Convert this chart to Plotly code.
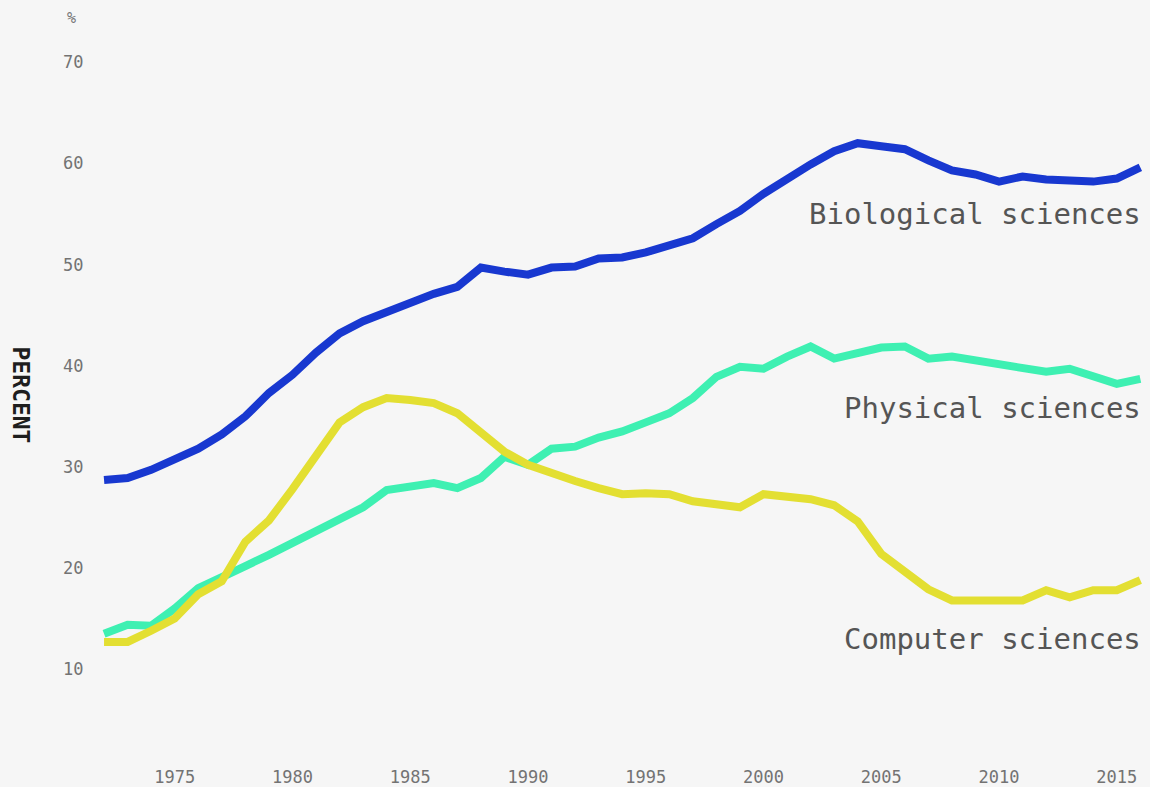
import plotly.graph_objects as go

years = list(range(1972, 2017))

biological = [28.7, 28.9, 29.7, 30.7, 31.8, 33.2, 35.0, 37.3, 39.1, 41.3,
              43.2, 44.4, 45.3, 46.3, 47.1, 47.8, 49.7, 49.3, 49.0, 49.7,
              49.8, 50.6, 50.7, 51.2, 51.8, 52.6, 54.0, 55.3, 57.0, 58.5,
              59.9, 61.2, 62.0, 61.7, 61.4, 60.3, 59.3, 58.9, 58.2, 58.7,
              58.4, 58.3, 58.2, 58.5, 59.6]

physical = [13.5, 14.4, 14.3, 16.0, 18.0, 19.2, 20.2, 21.3, 22.5, 23.7,
            24.8, 26.0, 27.7, 28.1, 28.4, 27.9, 28.9, 31.0, 30.2, 31.8,
            32.0, 32.9, 33.5, 34.4, 35.3, 36.8, 38.9, 39.9, 39.7, 40.9,
            41.9, 40.7, 41.3, 41.8, 41.9, 40.7, 40.9, 40.5, 40.1, 39.8,
            39.4, 39.7, 38.9, 38.2, 38.7]

computer = [12.7, 12.7, 13.8, 15.0, 17.4, 18.7, 22.6, 24.7, 27.8, 31.2,
            34.4, 35.9, 36.8, 36.6, 36.3, 35.3, 33.5, 31.5, 30.2, 29.3,
            28.6, 27.9, 27.3, 27.4, 27.3, 26.6, 26.3, 26.0, 27.3, 27.0,
            26.8, 26.2, 24.6, 21.4, 19.7, 17.9, 16.8, 16.8, 16.8, 16.8,
            17.8, 17.1, 17.8, 17.8, 18.8]

series_names = ["Biological sciences", "Physical sciences", "Computer sciences"]
series_colors = ["#1838d0", "#3ef0b2", "#e3df32"]

x_ticks = [1975, 1980, 1985, 1990, 1995, 2000, 2005, 2010, 2015]
y_ticks = [10, 20, 30, 40, 50, 60, 70]

mono = "DejaVu Sans Mono"
bg = "#f6f6f6"

fig = go.Figure()
for name, vals, col in zip(series_names, [biological, physical, computer], series_colors):
    fig.add_trace(go.Scatter(
        x=years, y=vals, mode="lines", name=name,
        line=dict(color=col, width=8, shape="linear"),
        hoverinfo="x+y+name",
    ))

# series labels
label_pos = {"Biological sciences": 55.0, "Physical sciences": 35.8, "Computer sciences": 13.0}
annotations = []
for name in series_names:
    annotations.append(dict(
        x=2016.1, y=label_pos[name], xref="x", yref="y",
        text=name, showarrow=False, xanchor="right", yanchor="middle",
        font=dict(family=mono, size=29, color="#555555"),
    ))

annotations.append(dict(
    x=0.0101, y=1.034, xref="paper", yref="paper", text="%",
    showarrow=False, xanchor="center", yanchor="middle",
    font=dict(family=mono, size=15, color="#777777"),
))
annotations.append(dict(
    x=-0.0358, y=0.4936, xref="paper", yref="paper", text="<b>PERCENT</b>",
    showarrow=False, xanchor="center", yanchor="middle", textangle=90,
    font=dict(family=mono, size=23, color="#1e1e1e"),
))

fig.update_layout(
    width=1150, height=787, autosize=False,
    paper_bgcolor=bg, plot_bgcolor=bg,
    margin=dict(l=60, r=0, t=42, b=44),
    showlegend=False,
    annotations=annotations,
    xaxis=dict(
        range=[1970.13, 2016.41], tickmode="array", tickvals=x_ticks,
        ticktext=[str(v) for v in x_ticks],
        showgrid=False, zeroline=False, showline=False,
        ticks="outside", ticklen=22, tickcolor="rgba(0,0,0,0)",
        tickfont=dict(family=mono, size=17, color="#737373"),
    ),
    yaxis=dict(
        range=[3, 72], tickmode="array", tickvals=y_ticks,
        ticktext=[str(v) for v in y_ticks],
        showgrid=False, zeroline=False, showline=False,
        ticklabelposition="inside",
        tickfont=dict(family=mono, size=17, color="#737373"),
    ),
)

fig.write_html(
    "out.html",
    config={"displayModeBar": False},
    post_script="document.body.style.margin='0';document.body.style.background='" + bg + "';document.body.style.overflow='hidden';",
)
